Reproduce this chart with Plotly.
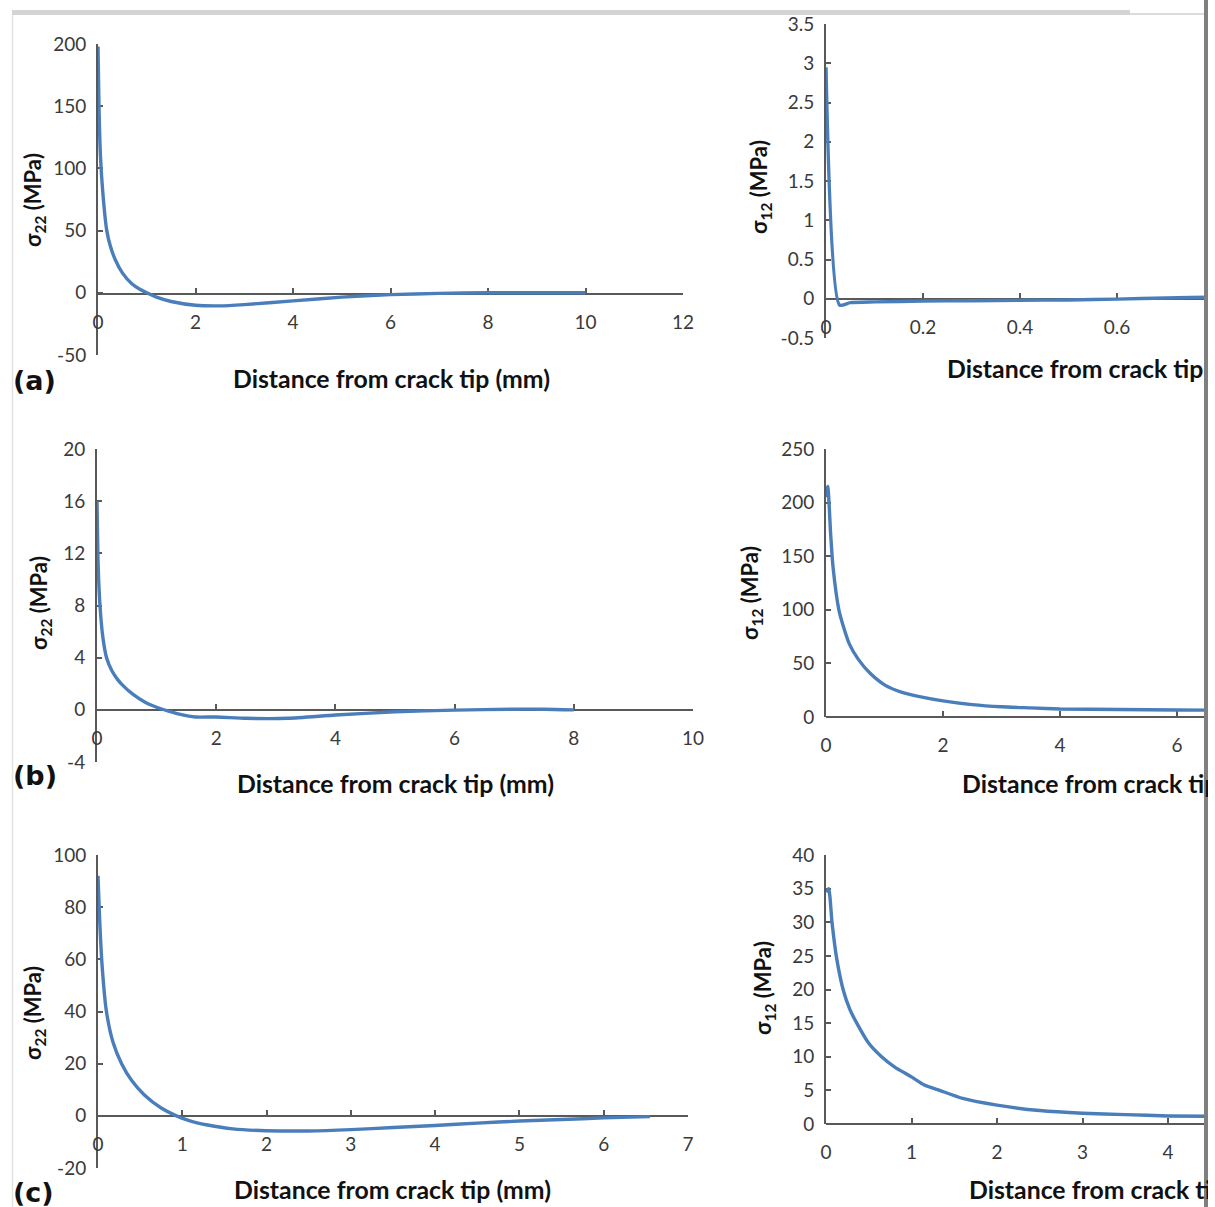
import plotly.graph_objects as go

# ---------------- data ----------------
# (a) sigma22
a22_x = [0, 0.02, 0.05, 0.1, 0.18, 0.25, 0.35, 0.5, 0.7, 0.85, 1.0, 1.2, 1.5, 2.0, 2.5, 3, 4, 5, 6, 7, 8, 9, 10]
a22_y = [198, 150, 110, 80, 50, 38, 27, 16, 7, 3, 0, -3.5, -7, -10, -10.5, -9.5, -6.5, -3.5, -1.5, -0.5, 0, 0, 0]
# (a) sigma12
a12_x = [0, 0.028, 0.05, 0.1, 0.2, 0.3, 0.4, 0.5, 0.6, 0.7, 0.8, 1.0]
a12_y = [2.95, -0.08, -0.05, -0.04, -0.03, -0.025, -0.02, -0.015, -0.005, 0.01, 0.02, 0.03]
# (b) sigma22
b22_x = [0, 0.02, 0.05, 0.1, 0.16, 0.25, 0.35, 0.45, 0.6, 0.8, 1.0, 1.2, 1.4, 1.65, 2.0, 2.5, 3.2, 4.0, 5.0, 6.0, 7.0, 7.5, 8.0]
b22_y = [16, 11, 8, 5.5, 4, 3, 2.3, 1.8, 1.2, 0.6, 0.2, -0.1, -0.35, -0.55, -0.55, -0.65, -0.65, -0.4, -0.15, -0.02, 0.05, 0.05, 0]
# (b) sigma12
b12_x = [0, 0.03, 0.08, 0.12, 0.22, 0.3, 0.4, 0.55, 0.75, 1.0, 1.3, 1.6, 2.0, 2.5, 3.0, 3.5, 4, 5, 6, 7, 8]
b12_y = [205, 215, 170, 140, 100, 84, 68, 54, 41, 30, 23, 19, 15, 11.5, 9.5, 8.5, 7.5, 7, 6.5, 6.3, 6]
# (c) sigma22
c22_x = [0, 0.02, 0.05, 0.1, 0.18, 0.28, 0.4, 0.55, 0.75, 0.93, 1.1, 1.3, 1.6, 2.0, 2.5, 3.0, 3.5, 4.0, 4.5, 5.0, 5.5, 6.0, 6.55]
c22_y = [92, 75, 57, 40, 28, 20, 13.5, 8, 3, 0, -2, -3.5, -5, -5.7, -5.8, -5.3, -4.5, -3.7, -2.8, -2, -1.4, -0.8, -0.3]
# (c) sigma12
c12_x = [0, 0.03, 0.07, 0.12, 0.2, 0.28, 0.36, 0.5, 0.65, 0.8, 1.0, 1.15, 1.33, 1.6, 2.0, 2.5, 3.0, 3.5, 4.0, 5, 6, 7]
c12_y = [34.5, 35, 30, 25, 20, 17, 15, 12, 10, 8.5, 7, 5.8, 5, 3.8, 2.8, 2.0, 1.6, 1.4, 1.2, 1.1, 1.0, 1.0]

# tick values / labels
a22_xt = [0, 2, 4, 6, 8, 10, 12]
a22_yt = [-50, 0, 50, 100, 150, 200]
a22_yl = ["-50", "0", "50", "100", "150", "200"]
a12_xt = [0, 0.2, 0.4, 0.6, 0.8]
a12_xl = ["0", "0.2", "0.4", "0.6", "0.8"]
a12_yt = [-0.5, 0, 0.5, 1, 1.5, 2, 2.5, 3, 3.5]
a12_yl = ["-0.5", "0", "0.5", "1", "1.5", "2", "2.5", "3", "3.5"]
b22_xt = [0, 2, 4, 6, 8, 10]
b22_yt = [-4, 0, 4, 8, 12, 16, 20]
b22_yl = ["-4", "0", "4", "8", "12", "16", "20"]
b12_xt = [0, 2, 4, 6, 8]
b12_yt = [0, 50, 100, 150, 200, 250]
c22_xt = [0, 1, 2, 3, 4, 5, 6, 7]
c22_yt = [-20, 0, 20, 40, 60, 80, 100]
c22_yl = ["-20", "0", "20", "40", "60", "80", "100"]
c12_xt = [0, 1, 2, 3, 4, 5]
c12_yt = [0, 5, 10, 15, 20, 25, 30, 35, 40]

xtitle = "<b>Distance from crack tip (mm)</b>"
t22 = "<b>σ<sub>22</sub> (MPa)</b>"
t12 = "<b>σ<sub>12</sub> (MPa)</b>"

# ---------------- layout geometry (page pixels) ----------------
W, H = 1208, 1207
def fx(p): return p / W
def fy(p): return 1 - p / H

LINE = "#4a7ebb"
AXC = "#595959"
TXT = "#3a3a3a"
FONT = "Lato"

panels = [
    dict(x=a22_x, y=a22_y, xt=a22_xt, xl=None, yt=a22_yt, yl=a22_yl, x0=98, x1=683, xr=[0, 12], yt0=44, yb0=355, yr=[-50, 200], z=294),
    dict(x=a12_x, y=a12_y, xt=a12_xt, xl=a12_xl, yt=a12_yt, yl=a12_yl, x0=826, x1=1208, xr=[0, (1208 - 826) / 485.0], yt0=24, yb0=338, yr=[-0.5, 3.5], z=299),
    dict(x=b22_x, y=b22_y, xt=b22_xt, xl=None, yt=b22_yt, yl=b22_yl, x0=97, x1=693, xr=[0, 10], yt0=449, yb0=762, yr=[-4, 20], z=710),
    dict(x=b12_x, y=b12_y, xt=b12_xt, xl=None, yt=b12_yt, yl=None, x0=826, x1=1208, xr=[0, (1208 - 826) / 58.5], yt0=449, yb0=717, yr=[0, 250], z=717),
    dict(x=c22_x, y=c22_y, xt=c22_xt, xl=None, yt=c22_yt, yl=c22_yl, x0=98, x1=688, xr=[0, 7], yt0=855, yb0=1168, yr=[-20, 100], z=1116),
    dict(x=c12_x, y=c12_y, xt=c12_xt, xl=None, yt=c12_yt, yl=None, x0=826, x1=1208, xr=[0, (1208 - 826) / 85.5], yt0=855, yb0=1124, yr=[0, 40], z=1124),
]

fig = go.Figure()
layout = dict(width=W, height=H, margin=dict(l=0, r=0, t=0, b=0, autoexpand=False),
              paper_bgcolor="white", plot_bgcolor="white", showlegend=False,
              font=dict(family=FONT, color=TXT))

for i, p in enumerate(panels, start=1):
    sfx = "" if i == 1 else str(i)
    fig.add_trace(go.Scatter(x=p["x"], y=p["y"], mode="lines",
                             line=dict(color=LINE, width=3.4, shape="spline", smoothing=0.6),
                             xaxis="x" + sfx, yaxis="y" + sfx, hoverinfo="skip"))
    common = dict(showgrid=False, zeroline=False, showline=True, linecolor=AXC, linewidth=2,
                  ticks="inside", ticklen=5, tickwidth=1.5, tickcolor=AXC, automargin=False,
                  tickfont=dict(family=FONT, size=19, color=TXT), layer="below traces",
                  fixedrange=True)
    xa = dict(common, domain=[fx(p["x0"]), fx(p["x1"])], range=p["xr"], anchor="free",
              position=fy(p["z"]), tickmode="array", tickvals=p["xt"], ticklabelstandoff=11)
    if p["xl"] is not None:
        xa["ticktext"] = p["xl"]
    ya = dict(common, domain=[fy(p["yb0"]), fy(p["yt0"])], range=p["yr"], anchor="x" + sfx,
              tickmode="array", tickvals=p["yt"], ticklabelstandoff=6)
    if p["yl"] is not None:
        ya["ticktext"] = p["yl"]
    layout["xaxis" + sfx] = xa
    layout["yaxis" + sfx] = ya

fig.update_layout(**layout)

ann = []
# x-axis titles
for (xc, yc, anchor) in [(391, 378, "center"), (395, 783, "center"), (392, 1189, "center"),
                         (945, 369, "left"), (960, 783, "left"), (967, 1189, "left")]:
    ann.append(dict(text=xtitle, x=fx(xc), y=fy(yc), xref="paper", yref="paper",
                    xanchor=anchor, yanchor="middle", showarrow=False,
                    font=dict(family=FONT, size=24.8, color="#111111")))
# y-axis titles
for (xc, yc, t) in [(34, 200, t22), (40, 603, t22), (34, 1013, t22),
                    (760, 187, t12), (751, 593, t12), (764, 988, t12)]:
    ann.append(dict(text=t, x=fx(xc), y=fy(yc), xref="paper", yref="paper",
                    xanchor="center", yanchor="middle", textangle=-90, showarrow=False,
                    font=dict(family=FONT, size=22, color="#111111")))
# panel labels
for (lab, yc) in [("(a)", 380), ("(b)", 775), ("(c)", 1192)]:
    ann.append(dict(text="<b>%s</b>" % lab, x=fx(11), y=fy(yc), xref="paper", yref="paper",
                    xanchor="left", yanchor="middle", showarrow=False,
                    font=dict(family="DejaVu Sans", size=27, color="#111111")))
fig.update_layout(annotations=ann)

shapes = [
    dict(type="rect", xref="paper", yref="paper", x0=fx(1204), x1=1, y0=0, y1=1,
         fillcolor="#7f7f7f", line=dict(width=0), layer="above"),
    dict(type="rect", xref="paper", yref="paper", x0=fx(12), x1=fx(1130), y0=fy(15), y1=fy(10),
         fillcolor="#d4d4d4", line=dict(width=0), layer="above"),
    dict(type="line", xref="paper", yref="paper", x0=fx(1130), x1=fx(1204), y0=fy(14), y1=fy(14),
         line=dict(color="#dcdcdc", width=2), layer="above"),
    dict(type="line", xref="paper", yref="paper", x0=fx(12.5), x1=fx(12.5), y0=0, y1=fy(15),
         line=dict(color="#e2e2e2", width=1.5), layer="above"),
]
fig.update_layout(shapes=shapes)

fig.write_html("out.html")
